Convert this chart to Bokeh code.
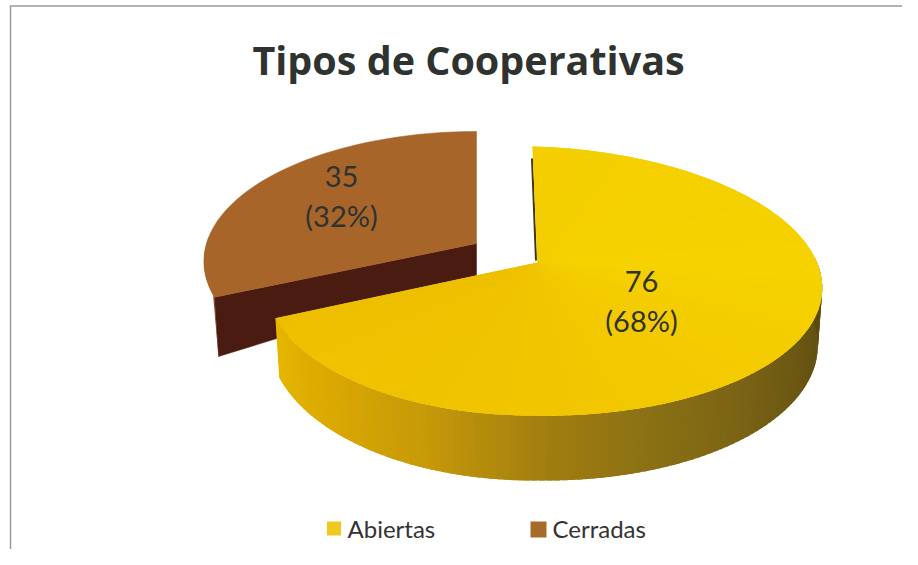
import numpy as np
from bokeh.plotting import figure
from bokeh.embed import file_html
from bokeh.resources import INLINE
from bokeh.core.properties import value

title = "Tipos de Cooperativas"
categories = ["Abiertas", "Cerradas"]
counts = [76, 35]
top_colors = ["#f2c800", "#a8652a"]

total = sum(counts)
split = 360.0 * counts[0] / total
K = 0.1375
LABEL_FONT = value("Lato")
TITLE_FONT = value("Open Sans")
INK = "#2f3330"


def hex2rgb(h):
    return np.array([int(h[i:i + 2], 16) for i in (1, 3, 5)], float)


def ramp(t, stops):
    ts = [s[0] for s in stops]
    rgb = np.array([hex2rgb(s[1]) for s in stops])
    c = [np.interp(t, ts, rgb[:, i]) for i in range(3)]
    return "#%02x%02x%02x" % tuple(int(round(x)) for x in c)


def rim(t_deg, ax, ay, a_right, a_left, b, skew=0.0, depth=0.0, lean=1.0):
    t = np.radians(np.asarray(t_deg, float))
    u, v = np.sin(t), np.cos(t)
    s = 1 / (1 + K * v)
    a = np.where(u >= 0, a_right, a_left)
    x = ax + a * u * s * lean
    y = ay - b * v * s + np.where(u >= 0, skew * u, 0) + depth * s
    return x, y


p = figure(width=902, height=549, x_range=(0, 902), y_range=(549, 0),
           toolbar_location=None, output_backend="svg", min_border=0,
           outline_line_color=None)
p.axis.visible = False
p.grid.visible = False
p.background_fill_color = "#ffffff"

# frame
p.line([10, 10], [5, 549], line_color="#9a9a9a", line_width=1.5)
p.line([10, 902], [5.5, 5.5], line_color="#9a9a9a", line_width=1.5)

# ---- Cerradas (exploded slice)
B = dict(ax=476, ay=243, a_right=270, a_left=270, b=127.4)
DB = 56
cx, cy = rim([split], **B)
cxb, cyb = rim([split], **B, depth=DB)
# outer side sliver
ts = np.linspace(split, 272, 20)
xt, yt = rim(ts, **B)
p.patch(np.r_[xt, cxb[0] + 4], np.r_[yt, cyb[0]], fill_color="#a0602a", line_color=None)
# inner radial face
p.patch([B["ax"], cx[0], cxb[0] + 4, B["ax"]], [B["ay"], cy[0], cyb[0], B["ay"] + DB * 0.6],
        fill_color="#4a1b10", line_color="#4a1b10", line_width=0.5)
# top face
ts = np.linspace(split, 360, 80)
xt, yt = rim(ts, **B)
p.patch(np.r_[B["ax"], xt], np.r_[B["ay"], yt], fill_color=top_colors[1], line_color=top_colors[1], line_width=0.5)

# ---- Abiertas
Y = dict(ax=532, ay=262, a_right=287, a_left=265, b=132, skew=7.0)
DY = 56
APEX = (537, 262)
side_stops = [(85, "#5a4810"), (100, "#5f4c10"), (130, "#735d14"), (160, "#8c7214"),
              (175, "#a07c10"), (200, "#c79a08"), (225, "#dcaa00"), (247, "#e6b800")]
edges = np.linspace(85, split, 121)
xs, ys, cs = [], [], []
for t0, t1 in zip(edges[:-1], edges[1:]):
    tt = np.linspace(t0, min(t1 + 1.0, split), 3)
    xt, yt = rim(tt, **Y)
    xb, yb = rim(tt, **Y, depth=DY, lean=0.985)
    xs.append(np.r_[xt, xb[::-1]])
    ys.append(np.r_[yt, yb[::-1]])
    cs.append(ramp((t0 + t1) / 2, side_stops))
p.patches(xs[::-1], ys[::-1], fill_color=cs[::-1], line_color=None)

# radial dark sliver
x0, y0 = rim([0], **Y)
p.line([x0[0] - 0.5, APEX[0] - 1.5], [y0[0] + 12, APEX[1] - 2], line_color="#3f3612", line_width=2)

# top face: flat base, then a soft colour drift
ts = np.linspace(0, split, 160)
xt, yt = rim(ts, **Y)
p.patch(np.r_[APEX[0], xt], np.r_[APEX[1], yt], fill_color=top_colors[0], line_color=None)
top_stops = [(0, "#f4ce00"), (90, "#f6d200"), (180, "#f1c500"), (split, "#eebf00")]
edges = np.linspace(0, split, 61)
xs, ys, cs = [], [], []
for t0, t1 in zip(edges[:-1], edges[1:]):
    xt, yt = rim(np.linspace(t0, min(t1 + 1.0, split), 4), **Y)
    xs.append(np.r_[APEX[0], xt])
    ys.append(np.r_[APEX[1], yt])
    cs.append(ramp((t0 + t1) / 2, top_stops))
p.patches(xs, ys, fill_color=cs, line_color=None)

# ---- texts
p.text([468], [59], text=[title], text_font=TITLE_FONT, text_font_style="bold", text_font_size="39.5px",
       text_color=INK, text_align="center", text_baseline="middle")
pct = [f"({round(100 * c / total)}%)" for c in counts]
label_x = [641, 341]
p.text(label_x, [281, 176], text=[str(c) for c in counts], text_font=LABEL_FONT, text_font_size="29px",
       text_color=INK, text_align="center", text_baseline="middle")
p.text(label_x, [320, 215], text=pct, text_font=LABEL_FONT, text_font_size="29px",
       text_color=INK, text_align="center", text_baseline="middle")

# ---- legend
leg_sq_x = [333.5, 538]
leg_sq_size = [14, 16]
leg_colors = ["#f0c820", "#a86a28"]
p.rect(leg_sq_x, [528, 529], width=leg_sq_size, height=leg_sq_size, fill_color=leg_colors, line_color=None)
p.text([347, 552], [528, 528], text=categories, text_font=LABEL_FONT, text_font_size="24px",
       text_color="#333333", text_align="left", text_baseline="middle")

open("out.html", "w").write(file_html(p, INLINE))
